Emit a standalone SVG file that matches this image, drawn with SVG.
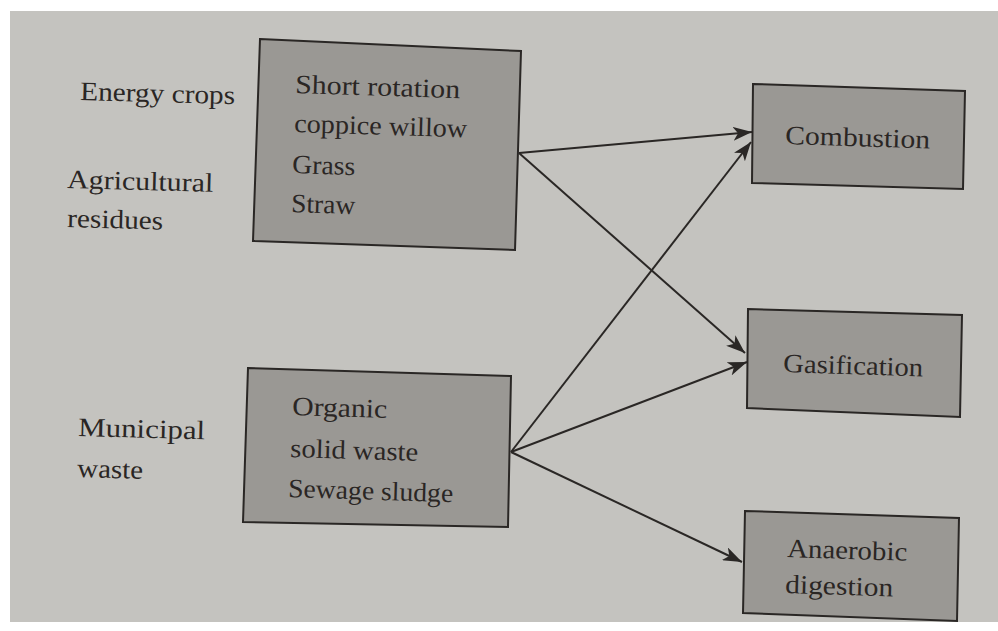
<svg xmlns="http://www.w3.org/2000/svg" width="998" height="631" viewBox="0 0 998 631">
<style>
.page{fill:#c4c3bf}
.box{fill:#9a9894;stroke:#2a2725;stroke-width:2}
.t{font-family:"Liberation Serif","Times New Roman",serif;font-size:26.5px;fill:#2a2624}
.edge{stroke:#2a2725;stroke-width:2;fill:none;marker-end:url(#ah)}
</style>
<defs>
<marker id="ah" markerUnits="userSpaceOnUse" markerWidth="20" markerHeight="14" refX="19" refY="7" orient="auto">
<path d="M0,0 L19,7 L0,14 L5,7 z" fill="#2a2725"/>
</marker>
</defs>
<rect width="998" height="631" fill="#ffffff"/>
<rect class="page" x="10" y="11" width="988" height="611"/>

<g id="labels">
<text class="t" x="80" y="100" textLength="155" lengthAdjust="spacingAndGlyphs" transform="rotate(1.5 80 100)">Energy crops</text>
<text class="t" x="67" y="188" textLength="146" lengthAdjust="spacingAndGlyphs" transform="rotate(1.5 67 188)">Agricultural</text>
<text class="t" x="67" y="227" textLength="96" lengthAdjust="spacingAndGlyphs" transform="rotate(1.5 67 227)">residues</text>
<text class="t" x="78" y="436" textLength="127" lengthAdjust="spacingAndGlyphs" transform="rotate(1.5 78 436)">Municipal</text>
<text class="t" x="77" y="477" textLength="66" lengthAdjust="spacingAndGlyphs" transform="rotate(1.5 77 477)">waste</text>
</g>

<g id="energy-crops">
<polygon class="box" points="260,39 521,51 515,250 253,241"/>
<text class="t" x="295" y="93" textLength="165" lengthAdjust="spacingAndGlyphs" transform="rotate(1.8 295 93)">Short rotation</text>
<text class="t" x="294" y="132" textLength="173" lengthAdjust="spacingAndGlyphs" transform="rotate(1.8 294 132)">coppice willow</text>
<text class="t" x="292" y="173" textLength="63" lengthAdjust="spacingAndGlyphs" transform="rotate(1.8 292 173)">Grass</text>
<text class="t" x="291" y="212" textLength="64" lengthAdjust="spacingAndGlyphs" transform="rotate(1.8 291 212)">Straw</text>
</g>

<g id="municipal-waste">
<polygon class="box" points="248,368 511,376 508,527 243,522"/>
<text class="t" x="292" y="415" textLength="95" lengthAdjust="spacingAndGlyphs" transform="rotate(1.8 292 415)">Organic</text>
<text class="t" x="290" y="457" textLength="128" lengthAdjust="spacingAndGlyphs" transform="rotate(1.8 290 457)">solid waste</text>
<text class="t" x="288" y="497" textLength="165" lengthAdjust="spacingAndGlyphs" transform="rotate(1.8 288 497)">Sewage sludge</text>
</g>

<g id="combustion">
<polygon class="box" points="753,84 965,91 963,189 752,183"/>
<text class="t" x="785" y="144" textLength="145" lengthAdjust="spacingAndGlyphs" transform="rotate(1.8 785 144)">Combustion</text>
</g>

<g id="gasification">
<polygon class="box" points="748,309 962,315 960,417 747,408"/>
<text class="t" x="783" y="372" textLength="140" lengthAdjust="spacingAndGlyphs" transform="rotate(1.8 783 372)">Gasification</text>
</g>

<g id="anaerobic-digestion">
<polygon class="box" points="745,511 959,518 957,621 743,613"/>
<text class="t" x="787" y="557" textLength="120" lengthAdjust="spacingAndGlyphs" transform="rotate(1.8 787 557)">Anaerobic</text>
<text class="t" x="785" y="593" textLength="108" lengthAdjust="spacingAndGlyphs" transform="rotate(1.8 785 593)">digestion</text>
</g>

<g id="connectors">
<line class="edge" x1="519" y1="153" x2="752" y2="132"/>
<line class="edge" x1="519" y1="153" x2="745" y2="353"/>
<line class="edge" x1="511" y1="452" x2="751" y2="142"/>
<line class="edge" x1="511" y1="452" x2="747" y2="362"/>
<line class="edge" x1="511" y1="452" x2="742" y2="562"/>
</g>
</svg>
